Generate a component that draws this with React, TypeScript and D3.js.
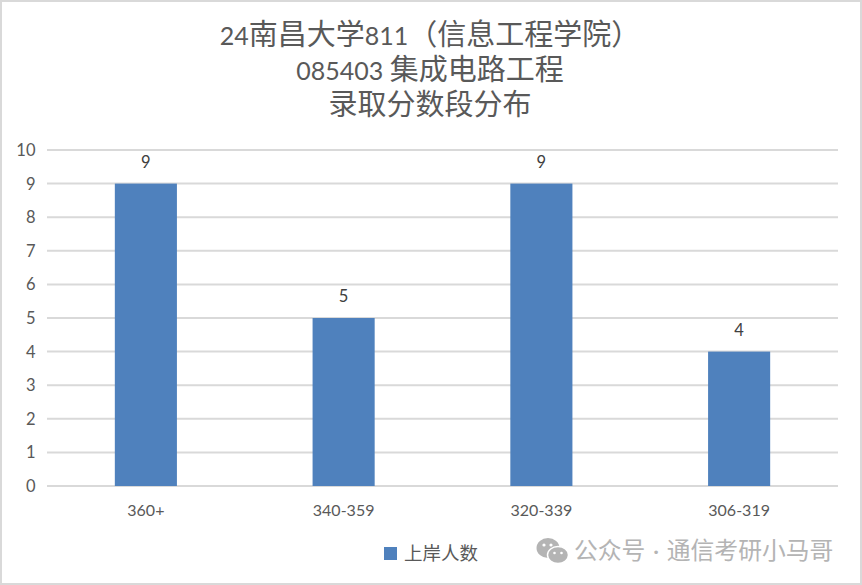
import React from "react";
import * as d3 from "d3";

const categories = ["360+", "340-359", "320-339", "306-319"];
const values = [9, 5, 9, 4];
const yTicks = [0, 1, 2, 3, 4, 5, 6, 7, 8, 9, 10];
const titleLines = ["24南昌大学811（信息工程学院）", "085403 集成电路工程", "录取分数段分布"];
const seriesName = "上岸人数";
const watermark = "公众号 · 通信考研小马哥";

const W = 862, H = 585;
const FONT = "Lato, 'Noto Sans CJK SC', sans-serif";
const TXT = "#595959";

const runs = (s: string) => s.match(/[0-9 ]+|[^0-9 ]+/g) || [];

export default function App() {
  const x = d3.scaleBand<string>().domain(categories).range([47, 838]).paddingInner(0.686).paddingOuter(0.343);
  const y = d3.scaleLinear().domain([0, 10]).range([486, 150]);
  return (
    <svg width={W} height={H} viewBox={`0 0 ${W} ${H}`} style={{ position: "absolute", left: 0, top: 0, fontFamily: FONT }}>
      <rect x={1} y={1} width={W - 2} height={H - 2} fill="#fff" stroke="#d9d9d9" strokeWidth={2} />
      {titleLines.map((t, i) => (
        <text key={t} x={430} y={44.5 + i * 35} textAnchor="middle" fill={TXT} xmlSpace="preserve">
          {runs(t).map((r, j) => (
            <tspan key={j} fontSize={/[0-9]/.test(r) ? 25 : 29}>{r}</tspan>
          ))}
        </text>
      ))}
      {yTicks.map(t => (
        <g key={t}>
          <line x1={47} x2={838} y1={y(t)} y2={y(t)} stroke="#d9d9d9" strokeWidth={2} />
          <text x={35.5} y={y(t) + 6} textAnchor="end" fontSize={16.5} fill={TXT}>{t}</text>
        </g>
      ))}
      {categories.map((c, i) => (
        <g key={c}>
          <rect x={x(c)!} y={y(values[i])} width={x.bandwidth()} height={y(0) - y(values[i])} fill="#4f81bd" />
          <text x={x(c)! + x.bandwidth() / 2} y={y(values[i]) - 16} textAnchor="middle" fontSize={16.5} fill="#404040">{values[i]}</text>
          <text x={x(c)! + x.bandwidth() / 2} y={516} textAnchor="middle" fontSize={16} fill={TXT}>{c}</text>
        </g>
      ))}
      <rect x={384} y={547} width={13} height={13} fill="#4f81bd" />
      <text x={404} y={560} fontSize={18.5} fill={TXT}>{seriesName}</text>
      <g fill="#b4b4b4">
        <ellipse cx={548} cy={548} rx={11.5} ry={10} />
        <ellipse cx={558} cy={555} rx={10.5} ry={8.5} stroke="#fff" strokeWidth={1.5} />
      </g>
      <g fill="#fff">
        <circle cx={544} cy={545} r={1.6} />
        <circle cx={551} cy={545} r={1.6} />
        <circle cx={554.5} cy={553} r={1.3} />
        <circle cx={561.5} cy={553} r={1.3} />
      </g>
      <text x={574} y={559} fontSize={23.8} wordSpacing={1.5} fill="#b4b4b4">{watermark}</text>
    </svg>
  );
}
